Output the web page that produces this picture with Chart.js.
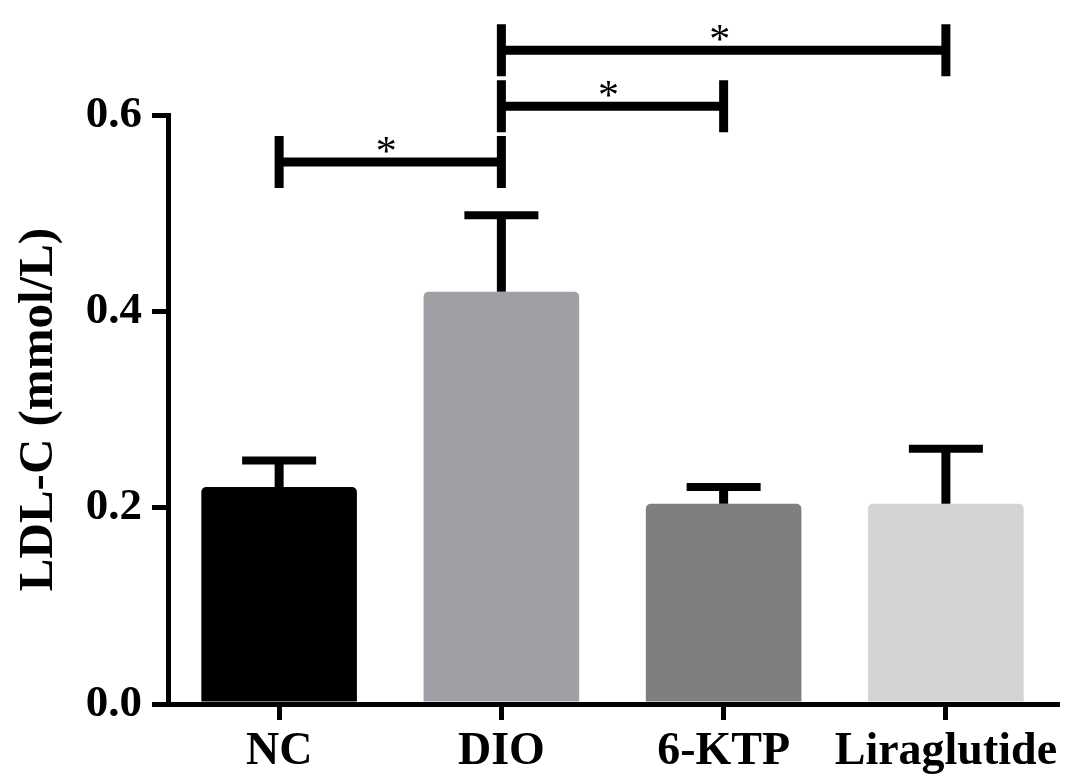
<!DOCTYPE html>
<html>
<head>
<meta charset="utf-8">
<script src="https://cdn.jsdelivr.net/npm/chart.js@4.4.1/dist/chart.umd.min.js"></script>
<style>
  html, body { margin: 0; padding: 0; background: #fff; }
  #wrap { width: 1069px; height: 776px; }
</style>
</head>
<body>
<div id="wrap"><canvas id="chart"></canvas></div>
<script>
// Datos
const groups = ["NC", "DIO", "6-KTP", "Liraglutide"];
const meanLDL = [0.221, 0.420, 0.204, 0.204];
const semLDL = [0.027, 0.078, 0.017, 0.056];
const barColors = ["#000000", "#a09fa5", "#7f7f7f", "#d4d4d4"];
const yTicks = [0.0, 0.2, 0.4, 0.6];
const yTitle = "LDL-C (mmol/L)";

// Comparaciones significativas: [desde, hasta, altura, etiqueta]
const compFrom = [0, 1, 1];
const compTo = [1, 2, 3];
const compHeight = [0.552, 0.609, 0.666];
const compLabel = ["*", "*", "*"];

const SERIF = "'Liberation Serif', 'Times New Roman', serif";

const annotations = {
  id: "annotations",
  afterDatasetsDraw(chart) {
    const { ctx, scales: { x, y } } = chart;
    const meta = chart.getDatasetMeta(0);
    ctx.save();
    ctx.strokeStyle = "#000";
    ctx.fillStyle = "#000";

    // barras de error (solo hacia arriba)
    meta.data.forEach((bar, i) => {
      const top = y.getPixelForValue(meanLDL[i] + semLDL[i]);
      ctx.lineWidth = 9;
      ctx.beginPath();
      ctx.moveTo(bar.x, bar.y);
      ctx.lineTo(bar.x, top);
      ctx.stroke();
      ctx.lineWidth = 8;
      ctx.beginPath();
      ctx.moveTo(bar.x - 37, top);
      ctx.lineTo(bar.x + 37, top);
      ctx.stroke();
    });

    // corchetes de significancia
    compFrom.forEach((from, k) => {
      const x1 = x.getPixelForValue(from);
      const x2 = x.getPixelForValue(compTo[k]);
      const yy = y.getPixelForValue(compHeight[k]);
      ctx.lineWidth = 9;
      ctx.beginPath();
      ctx.moveTo(x1, yy);
      ctx.lineTo(x2, yy);
      ctx.moveTo(x1, yy - 26);
      ctx.lineTo(x1, yy + 26);
      ctx.moveTo(x2, yy - 26);
      ctx.lineTo(x2, yy + 26);
      ctx.stroke();
      ctx.font = "42px " + SERIF;
      ctx.textAlign = "center";
      ctx.textBaseline = "alphabetic";
      ctx.fillText(compLabel[k], (x1 + x2) / 2 - 4, yy + 3);
    });
    ctx.restore();
  }
};

new Chart(document.getElementById("chart"), {
  type: "bar",
  data: {
    labels: groups,
    datasets: [{
      data: meanLDL,
      backgroundColor: barColors,
      borderWidth: 0,
      borderRadius: 5,
      barPercentage: 0.7,
      categoryPercentage: 1.0
    }]
  },
  options: {
    responsive: true,
    maintainAspectRatio: false,
    animation: false,
    layout: { padding: { top: 115, right: 12, left: 0, bottom: 0 } },
    plugins: { legend: { display: false }, tooltip: { enabled: false } },
    scales: {
      x: {
        afterFit: (s) => { s.height = 72; },
        grid: { display: true, drawOnChartArea: false, offset: false, color: "#000", lineWidth: 5, tickLength: 16, tickWidth: 5 },
        border: { display: true, color: "#000", width: 5 },
        ticks: {
          color: "#000",
          padding: 5,
          autoSkip: false,
          maxRotation: 0,
          minRotation: 0,
          font: { family: SERIF, size: 46, weight: "bold" }
        }
      },
      y: {
        min: 0,
        max: 0.6,
        afterFit: (s) => { s.width = 168; },
        afterBuildTicks: (s) => { s.ticks = yTicks.map((v) => ({ value: v })); },
        grid: { display: true, drawOnChartArea: false, color: "#000", lineWidth: 5, tickLength: 16, tickWidth: 5 },
        border: { display: true, color: "#000", width: 5 },
        ticks: {
          color: "#000",
          padding: 10,
          font: { family: SERIF, size: 45, weight: "bold" },
          callback: (v) => Number(v).toFixed(1)
        },
        title: {
          display: true,
          text: yTitle,
          color: "#000",
          padding: { top: 10, bottom: 0 },
          font: { family: SERIF, size: 49, weight: "bold" }
        }
      }
    }
  },
  plugins: [annotations]
});
</script>
</body>
</html>
